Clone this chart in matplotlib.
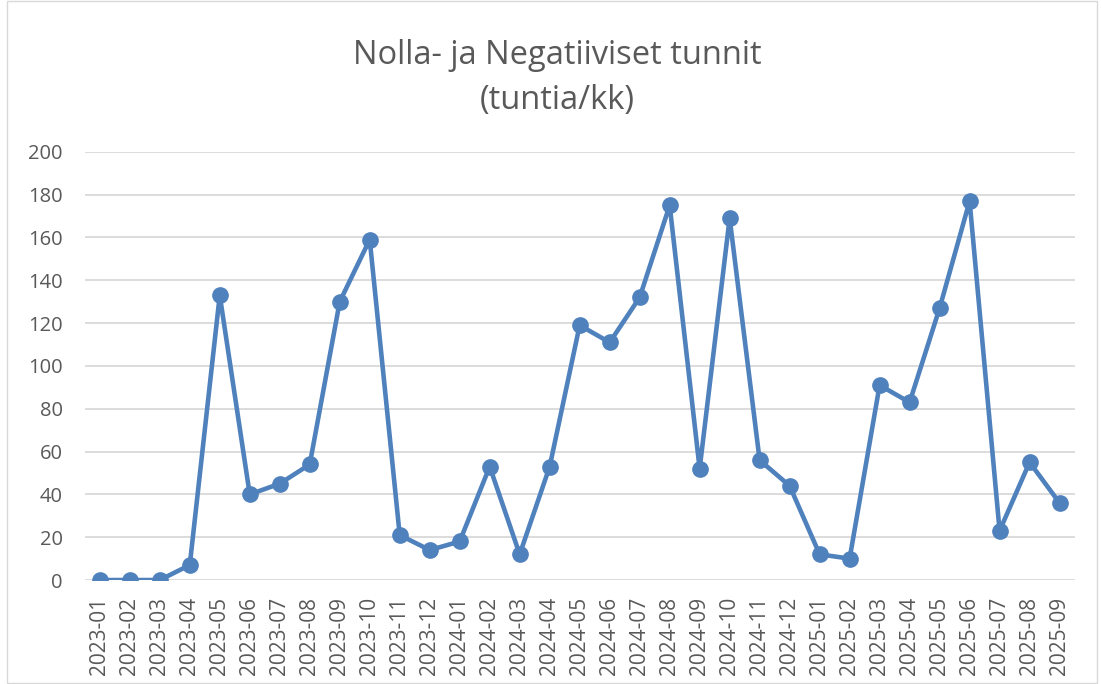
import matplotlib.pyplot as plt
from matplotlib.patches import Rectangle

# Kuukaudet ja tunnit
months = ["2023-01", "2023-02", "2023-03", "2023-04", "2023-05", "2023-06",
          "2023-07", "2023-08", "2023-09", "2023-10", "2023-11", "2023-12",
          "2024-01", "2024-02", "2024-03", "2024-04", "2024-05", "2024-06",
          "2024-07", "2024-08", "2024-09", "2024-10", "2024-11", "2024-12",
          "2025-01", "2025-02", "2025-03", "2025-04", "2025-05", "2025-06",
          "2025-07", "2025-08", "2025-09"]
hours = [0, 0, 0, 7, 133, 40, 45, 54, 130, 159, 21, 14,
         18, 53, 12, 53, 119, 111, 132, 175, 52, 169, 56, 44,
         12, 10, 91, 83, 127, 177, 23, 55, 36]
y_ticks = [0, 20, 40, 60, 80, 100, 120, 140, 160, 180, 200]

plt.rcParams['font.family'] = ['Open Sans', 'DejaVu Sans']

fig = plt.figure(figsize=(11.01, 6.84), dpi=100)
ax = fig.add_axes([0.077, 0.152, 0.899, 0.626])

x = list(range(len(months)))
ax.plot(x, hours, color='#4F81BD', linewidth=3.3, marker='o',
        markersize=11, zorder=3)

ax.set_xlim(-0.5, len(months) - 0.5)
ax.set_ylim(0, 200)
ax.set_yticks(y_ticks)
ax.set_xticks(x)
ax.set_xticklabels(months, rotation=90)
ax.tick_params(axis='both', length=0, labelcolor='#595959')
ax.tick_params(axis='y', pad=16, labelsize=14.5)
ax.tick_params(axis='x', pad=12, labelsize=15)
ax.grid(axis='y', color='#D9D9D9', linewidth=1.3)
ax.set_axisbelow(True)
for s in ax.spines.values():
    s.set_visible(False)

fig.text(0.506, 0.886, "Nolla- ja Negatiiviset tunnit\n(tuntia/kk)",
         ha='center', va='center', fontsize=23.5, color='#595959',
         linespacing=1.45)

fig.patches.append(Rectangle((0.006, 0.001), 0.99, 0.998,
                             transform=fig.transFigure, fill=False,
                             edgecolor='#D9D9D9', linewidth=1))

fig.savefig("out.png", dpi=100)
